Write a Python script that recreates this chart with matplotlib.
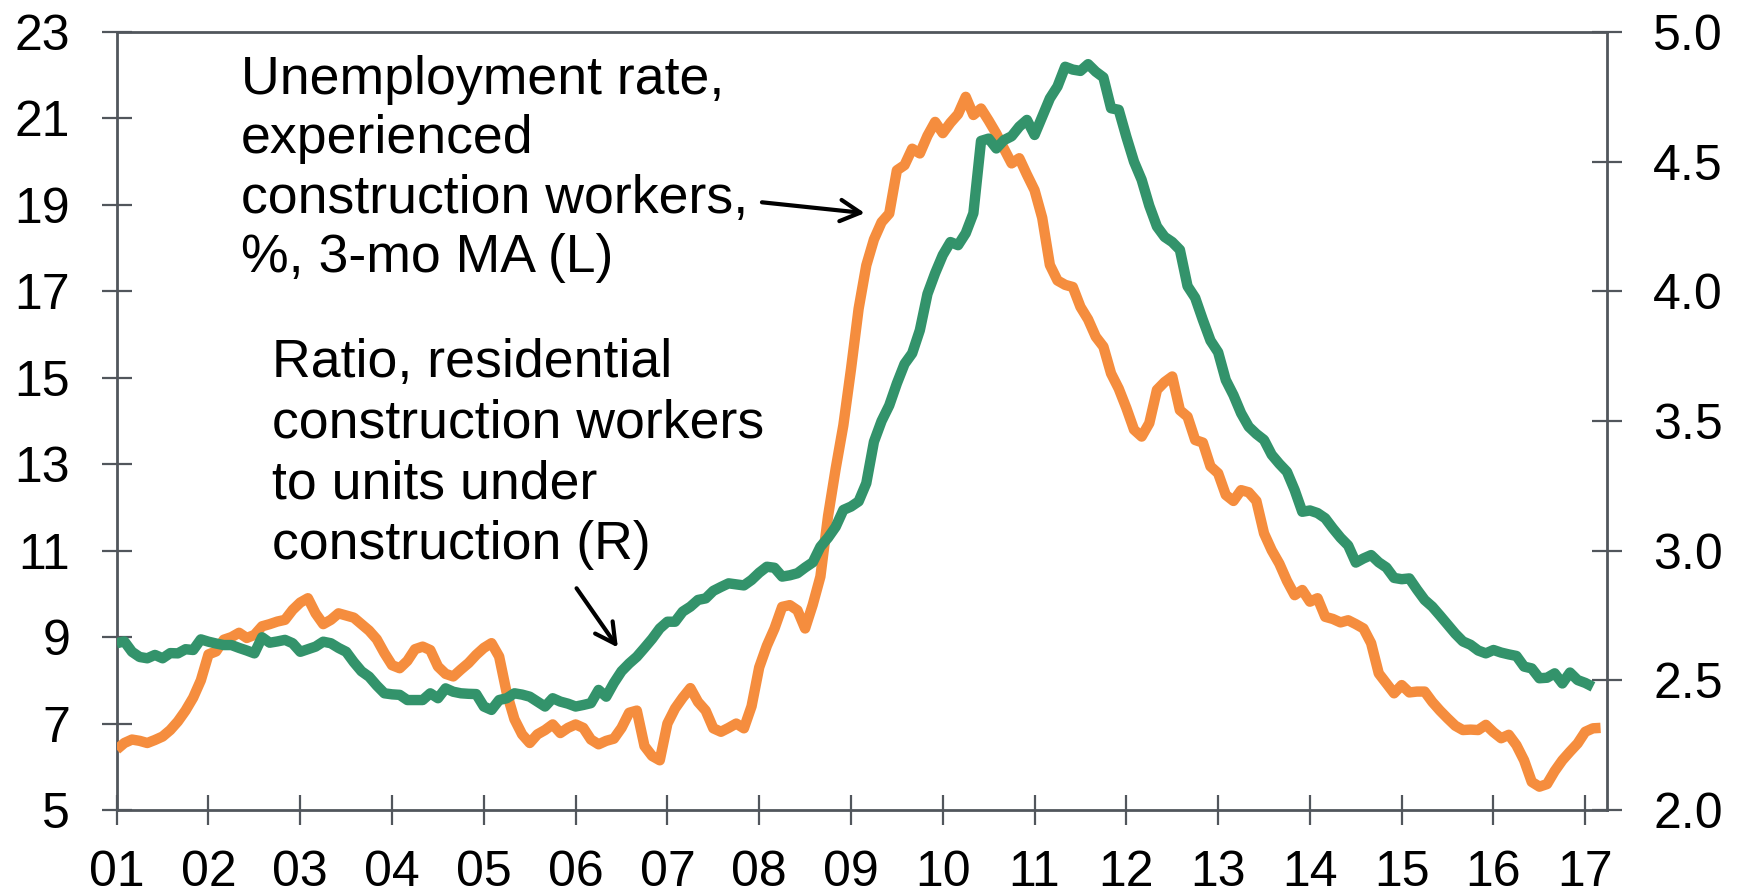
import matplotlib
matplotlib.use('Agg')
import matplotlib.pyplot as plt
import numpy as np

plt.rcParams['font.family'] = ['Liberation Sans', 'DejaVu Sans']

# ---- data (monthly, starting Jan 2001) ----
start_year = 2001

# Unemployment rate, experienced construction workers, %, 3-mo MA (left axis)
unemployment = [
    6.40, 6.55, 6.63, 6.60, 6.55, 6.62, 6.70, 6.85, 7.05, 7.30, 7.60, 8.00,   # 2001
    8.60, 8.67, 8.94, 9.00, 9.10, 8.98, 9.05, 9.25, 9.30, 9.36, 9.40, 9.63,   # 2002
    9.80, 9.90, 9.55, 9.30, 9.40, 9.55, 9.50, 9.45, 9.30, 9.15, 8.95, 8.63,   # 2003
    8.35, 8.28, 8.45, 8.72, 8.78, 8.70, 8.32, 8.15, 8.09, 8.25, 8.40, 8.59,   # 2004
    8.75, 8.86, 8.55, 7.70, 7.10, 6.75, 6.55, 6.75, 6.85, 6.98, 6.78, 6.90,   # 2005
    6.98, 6.90, 6.63, 6.52, 6.60, 6.65, 6.90, 7.25, 7.30, 6.48, 6.25, 6.15,   # 2006
    7.00, 7.35, 7.60, 7.82, 7.50, 7.30, 6.89, 6.81, 6.90, 7.00, 6.89, 7.40,   # 2007
    8.30, 8.80, 9.20, 9.70, 9.74, 9.62, 9.20, 9.75, 10.40, 11.80, 12.90, 13.90,  # 2008
    15.20, 16.60, 17.60, 18.20, 18.60, 18.80, 19.80, 19.92, 20.30, 20.19, 20.60, 20.92,  # 2009
    20.66, 20.90, 21.10, 21.50, 21.08, 21.23, 20.95, 20.65, 20.30, 19.96, 20.08, 19.70,  # 2010
    19.34, 18.70, 17.61, 17.25, 17.15, 17.10, 16.64, 16.35, 15.95, 15.72, 15.10, 14.75,  # 2011
    14.30, 13.80, 13.64, 13.95, 14.72, 14.90, 15.03, 14.25, 14.10, 13.56, 13.50, 12.95,  # 2012
    12.79, 12.29, 12.15, 12.40, 12.35, 12.15, 11.40, 11.01, 10.70, 10.30, 9.97, 10.09,   # 2013
    9.82, 9.90, 9.47, 9.42, 9.34, 9.39, 9.30, 9.20, 8.86, 8.16, 7.93, 7.70,   # 2014
    7.89, 7.72, 7.74, 7.74, 7.50, 7.30, 7.12, 6.95, 6.85, 6.86, 6.85, 6.97,   # 2015
    6.80, 6.66, 6.74, 6.50, 6.15, 5.65, 5.54, 5.60, 5.90, 6.15, 6.35, 6.54,   # 2016
    6.81, 6.89, 6.90,                                                          # 2017
]

# Ratio, residential construction workers to units under construction (right axis)
ratio = [
    2.643, 2.650, 2.610, 2.590, 2.585, 2.598, 2.585, 2.605, 2.604, 2.620, 2.617, 2.658,  # 2001
    2.649, 2.642, 2.636, 2.636, 2.625, 2.615, 2.604, 2.666, 2.645, 2.650, 2.656, 2.643,  # 2002
    2.610, 2.620, 2.630, 2.649, 2.643, 2.625, 2.610, 2.570, 2.535, 2.514, 2.480, 2.450,  # 2003
    2.446, 2.444, 2.424, 2.424, 2.424, 2.450, 2.431, 2.469, 2.456, 2.450, 2.448, 2.447,  # 2004
    2.399, 2.386, 2.424, 2.431, 2.450, 2.445, 2.437, 2.418, 2.399, 2.431, 2.418, 2.410,  # 2005
    2.399, 2.405, 2.412, 2.463, 2.437, 2.490, 2.535, 2.565, 2.591, 2.625, 2.660, 2.700,  # 2006
    2.726, 2.726, 2.765, 2.784, 2.810, 2.816, 2.845, 2.860, 2.874, 2.870, 2.866, 2.887,  # 2007
    2.915, 2.938, 2.934, 2.900, 2.905, 2.913, 2.935, 2.955, 3.015, 3.050, 3.092, 3.157,  # 2008
    3.170, 3.190, 3.260, 3.420, 3.500, 3.560, 3.645, 3.720, 3.761, 3.850, 3.990, 4.070,  # 2009
    4.140, 4.190, 4.178, 4.224, 4.301, 4.580, 4.589, 4.551, 4.583, 4.598, 4.635, 4.661,  # 2010
    4.603, 4.673, 4.744, 4.790, 4.866, 4.855, 4.850, 4.876, 4.847, 4.825, 4.706, 4.700,  # 2011
    4.596, 4.500, 4.430, 4.330, 4.250, 4.210, 4.190, 4.160, 4.020, 3.975, 3.890, 3.810,  # 2012
    3.765, 3.658, 3.600, 3.530, 3.478, 3.450, 3.427, 3.370, 3.335, 3.304, 3.234, 3.150,  # 2013
    3.155, 3.145, 3.125, 3.086, 3.050, 3.020, 2.954, 2.970, 2.983, 2.955, 2.935, 2.895,  # 2014
    2.890, 2.893, 2.850, 2.810, 2.784, 2.750, 2.715, 2.680, 2.650, 2.637, 2.615, 2.604,  # 2015
    2.617, 2.607, 2.600, 2.594, 2.553, 2.546, 2.508, 2.510, 2.527, 2.488, 2.530, 2.501,  # 2016
    2.490, 2.475,                                                                        # 2017
]

year_ticks = list(range(2001, 2018))
year_labels = ['01', '02', '03', '04', '05', '06', '07', '08', '09',
               '10', '11', '12', '13', '14', '15', '16', '17']
left_ticks = [5, 7, 9, 11, 13, 15, 17, 19, 21, 23]
right_ticks = [2.0, 2.5, 3.0, 3.5, 4.0, 4.5, 5.0]
right_labels = ['2.0', '2.5', '3.0', '3.5', '4.0', '4.5', '5.0']

label_unemp = "Unemployment rate,\nexperienced\nconstruction workers,\n%, 3-mo MA (L)"
label_ratio = "Ratio, residential\nconstruction workers\nto units under\nconstruction (R)"

# ---- style ----
ORANGE = '#F58D3E'
GREEN = '#33936B'
AXC = '#51565C'
W, H = 1743, 896

fig = plt.figure(figsize=(W / 100, H / 100), dpi=100)
left_px, right_px, top_px, bot_px = 116.7, 1606.7, 32, 810
ax = fig.add_axes([left_px / W, 1 - bot_px / H, (right_px - left_px) / W, (bot_px - top_px) / H])

x_u = start_year + np.arange(len(unemployment)) / 12.0
x_r = start_year + np.arange(len(ratio)) / 12.0

ax.plot(x_u, unemployment, color=ORANGE, lw=7.5, solid_joinstyle='round',
        solid_capstyle='butt', zorder=3)
ax.set_xlim(2001, 2001 + 194.8 / 12.0)
ax.set_ylim(5, 23)

ax2 = ax.twinx()
ax2.plot(x_r, ratio, color=GREEN, lw=7.5, solid_joinstyle='round',
         solid_capstyle='butt', zorder=3)
ax2.set_ylim(2, 5)

ax.set_xticks(year_ticks)
ax.set_xticklabels(year_labels)
ax.set_yticks(left_ticks)
ax.set_yticklabels([str(v) for v in left_ticks])
ax2.set_yticks(right_ticks)
ax2.set_yticklabels(right_labels)

tick_kw = dict(direction='inout', length=22, width=1.6, color=AXC,
               labelsize=36, labelcolor='black')
ax.tick_params(axis='y', pad=22.5, **tick_kw)
ax.tick_params(axis='x', pad=18.0, **tick_kw)
ax2.tick_params(axis='y', pad=22.5, **tick_kw)

for s in ['left', 'bottom', 'top']:
    ax.spines[s].set_color(AXC)
    ax.spines[s].set_linewidth(2.0)
ax.spines['right'].set_visible(False)
for s in ['left', 'bottom', 'top']:
    ax2.spines[s].set_visible(False)
ax2.spines['right'].set_color(AXC)
ax2.spines['right'].set_linewidth(2.0)

# ---- annotations (va='baseline' anchors the last line's baseline) ----
fig.text(241 / W, 1 - 272 / H, label_unemp, fontsize=38.6, ha='left', va='baseline',
         linespacing=1.24, color='black')
fig.text(272 / W, 1 - 559 / H, label_ratio, fontsize=38.6, ha='left', va='baseline',
         linespacing=1.27, color='black')

arrow_kw = dict(arrowstyle='->,head_length=0.6,head_width=0.32', color='black',
                lw=3.0, mutation_scale=24, shrinkA=0, shrinkB=0)
ax.annotate('', xy=(2009.15, 18.81), xytext=(2008.03, 19.06), arrowprops=arrow_kw)
ax.annotate('', xy=(2006.46, 8.76), xytext=(2006.01, 10.13), arrowprops=arrow_kw)

fig.savefig('out.png', dpi=100)
